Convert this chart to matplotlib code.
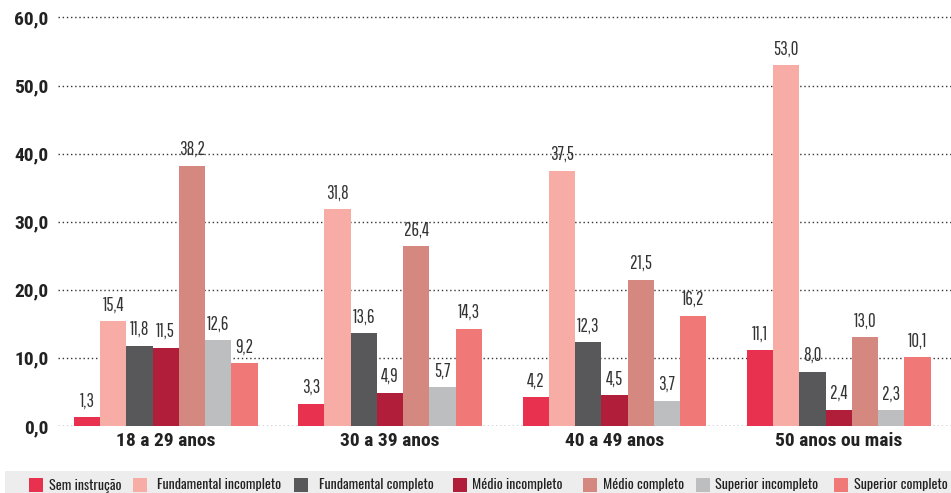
import matplotlib
matplotlib.use("Agg")
import matplotlib.pyplot as plt
from matplotlib.patches import Rectangle
from matplotlib import font_manager
import numpy as np

groups = ["18 a 29 anos", "30 a 39 anos", "40 a 49 anos", "50 anos ou mais"]
series = ["Sem instrução", "Fundamental incompleto", "Fundamental completo",
          "Médio incompleto", "Médio completo", "Superior incompleto", "Superior completo"]
sem_instrucao = [1.3, 3.3, 4.2, 11.1]
fund_incompleto = [15.4, 31.8, 37.5, 53.0]
fund_completo = [11.8, 13.6, 12.3, 8.0]
medio_incompleto = [11.5, 4.9, 4.5, 2.4]
medio_completo = [38.2, 26.4, 21.5, 13.0]
sup_incompleto = [12.6, 5.7, 3.7, 2.3]
sup_completo = [9.2, 14.3, 16.2, 10.1]
values = [sem_instrucao, fund_incompleto, fund_completo, medio_incompleto,
          medio_completo, sup_incompleto, sup_completo]
yticks = [0, 10, 20, 30, 40, 50, 60]
colors = ["#E8304F", "#F7ADA5", "#58585A", "#B01E3A", "#D48880", "#BDBEC0", "#F07876"]

names = {f.name for f in font_manager.fontManager.ttflist}
def pick(cands):
    for c in cands:
        if c in names:
            return c
    return "DejaVu Sans"
bold_font = pick(["Roboto Condensed", "Barlow Condensed", "PT Sans Narrow", "DejaVu Sans"])
thin_font = pick(["Pathway Gothic One", "Roboto Condensed", "PT Sans Narrow", "DejaVu Sans"])
leg_font = pick(["Oswald", "Barlow Condensed", "Roboto Condensed", "DejaVu Sans"])
plt.rcParams['font.family'] = [bold_font, 'DejaVu Sans']

W, H = 951, 493
fig = plt.figure(figsize=(W / 100, H / 100), dpi=100)
ax = fig.add_axes([58 / W, (H - 426) / H, (W - 58) / W, (426 - 14) / H])

bw = 0.117
x = np.arange(len(groups))
for i, (vals, c) in enumerate(zip(values, colors)):
    pos = x + (i - 3) * bw
    ax.bar(pos, vals, width=bw, color=c, zorder=3, linewidth=0)
    for p, v in zip(pos, vals):
        ax.text(p, v + 1.0, f"{v:.1f}".replace(".", ","), ha="center", va="bottom",
                fontsize=13.5, color="#333333", zorder=4, family=[thin_font, "DejaVu Sans"])

ax.set_xlim(-0.48, 3.5)
ax.set_ylim(0, 60.5)
ax.set_yticks(yticks)
ax.set_yticklabels([f"{t:.1f}".replace(".", ",") for t in yticks],
                   fontsize=14, fontweight="bold", color="#222222")
ax.set_xticks(x)
ax.set_xticklabels(groups, fontsize=14, fontweight="bold", color="#222222")
ax.tick_params(axis="y", length=0, pad=7)
ax.tick_params(axis="x", length=0, pad=4)
for s in ax.spines.values():
    s.set_visible(False)
for t in yticks:
    ax.axhline(t, color="#333333", linestyle=(0, (1, 2)), linewidth=1.0, zorder=1)

# legend band
fig.patches.append(Rectangle((5 / W, 0), (W - 5) / W, 22 / H, transform=fig.transFigure,
                             facecolor="#EDEDED", edgecolor="none", zorder=0))
patch_x = [29, 133, 294, 453, 583, 696, 834]
text_x = [49, 157, 319, 472, 603, 715, 854]
texts = []
for px, tx, lab, c in zip(patch_x, text_x, series, colors):
    fig.patches.append(Rectangle((px / W, 1 / H), 14 / W, 14 / H, transform=fig.transFigure,
                                 facecolor=c, edgecolor="none", zorder=1))
    texts.append(fig.text(tx / W, 4 / H, lab, fontsize=11, color="#222222",
                          ha="left", va="baseline",
                          family=[leg_font, "DejaVu Sans"]))
# fit legend font size so the first label spans about 72 px, as in the reference
r = fig.canvas.get_renderer()
w0 = texts[0].get_window_extent(r).width
fs = 11 * 72.0 / w0
for t in texts:
    t.set_fontsize(fs)

fig.savefig("out.png", dpi=100)
